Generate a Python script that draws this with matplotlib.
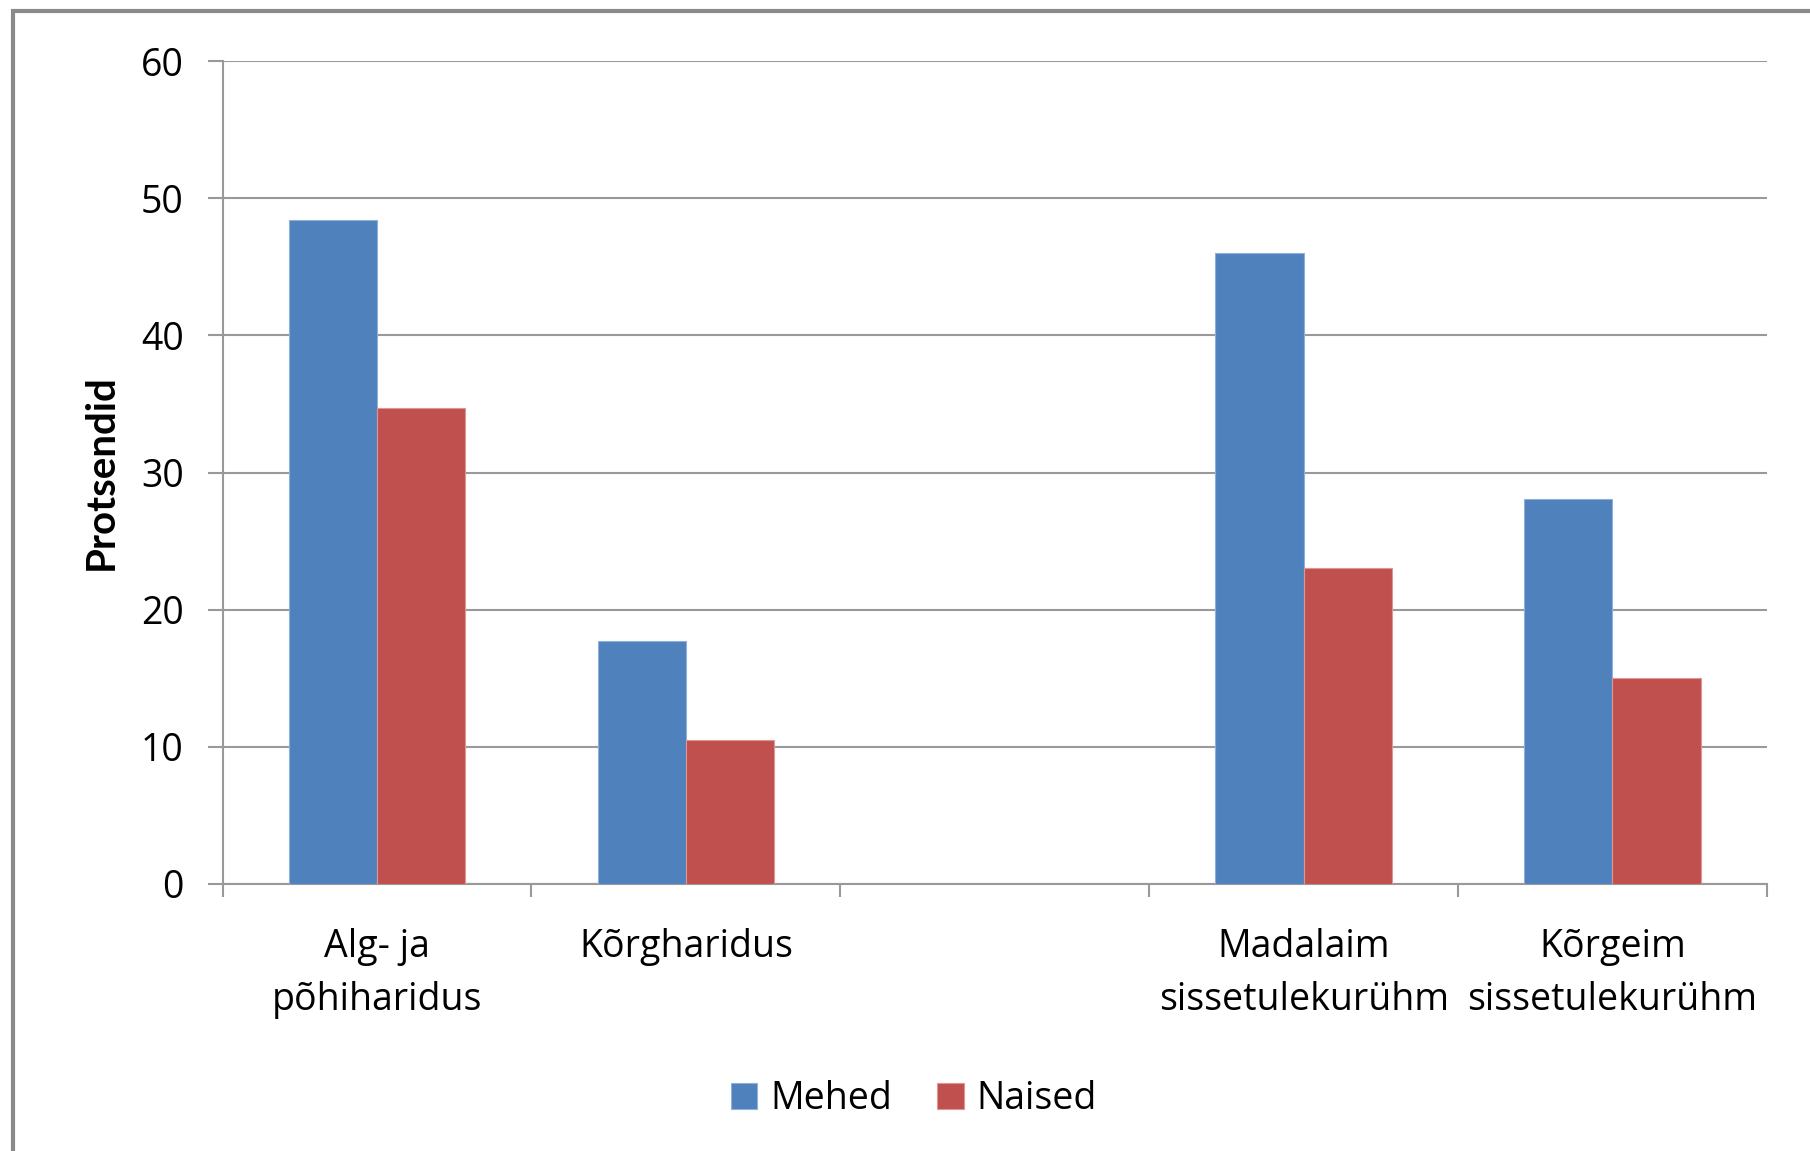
import numpy as np
import matplotlib
matplotlib.use('Agg')
import matplotlib.pyplot as plt
from matplotlib.patches import Rectangle

# Data
categories = ['Alg- ja\npõhiharidus', 'Kõrgharidus', '', 'Madalaim\nsissetulekurühm', 'Kõrgeim\nsissetulekurühm']
mehed = [48.4, 17.7, np.nan, 46.0, 28.1]
naised = [34.7, 10.5, np.nan, 23.0, 15.0]
yticks = [0, 10, 20, 30, 40, 50, 60]

plt.rcParams['font.family'] = ['Open Sans', 'DejaVu Sans']

fig = plt.figure(figsize=(18.1, 11.51), dpi=100)
ax = fig.add_axes([0.123, 0.2322, 0.8532, 0.7145])

x = np.arange(len(categories))
w = 1 / 3.5
ax.bar(x - w / 2, mehed, w, color='#4F81BD', edgecolor='#8fb0d8', linewidth=0.8, label='Mehed', zorder=3)
ax.bar(x + w / 2, naised, w, color='#C0504D', edgecolor='#dc9694', linewidth=0.8, label='Naised', zorder=3)

ax.set_xlim(-0.5, len(categories) - 0.5)
ax.set_ylim(0, 60)
ax.set_yticks(yticks)
ax.grid(axis='y', color='#999999', linewidth=1.5, zorder=0)

ax.set_xticks(x)
ax.set_xticklabels(categories, fontsize=27, linespacing=1.5)
ax.set_xticks(np.arange(len(categories) + 1) - 0.5, minor=True)
ax.tick_params(axis='x', which='major', length=0, pad=32)
ax.tick_params(axis='x', which='minor', length=9, width=1.5, color='#999999')
ax.tick_params(axis='y', which='major', length=11, width=1.5, color='#999999', labelsize=27, pad=17)

for s in ['top', 'right']:
    ax.spines[s].set_visible(False)
for s in ['left', 'bottom']:
    ax.spines[s].set_color('#999999')
    ax.spines[s].set_linewidth(1.5)

ax.set_ylabel('Protsendid', family=['Lato', 'DejaVu Sans'], fontsize=29, fontweight='bold', labelpad=15)

fig.legend(loc='center', bbox_to_anchor=(914 / 1810, 1 - 1099 / 1151), ncol=2, frameon=False,
           fontsize=27, handlelength=0.7, handleheight=0.7, handletextpad=0.35, columnspacing=1.2)

# chart border (cut off at right and bottom)
fig.patches.append(Rectangle((13 / 1810, -0.1), 1.2, 1.1 - 11 / 1151, transform=fig.transFigure,
                             fill=False, edgecolor='#8a8a8a', linewidth=3))

fig.savefig('out.png', dpi=100)
